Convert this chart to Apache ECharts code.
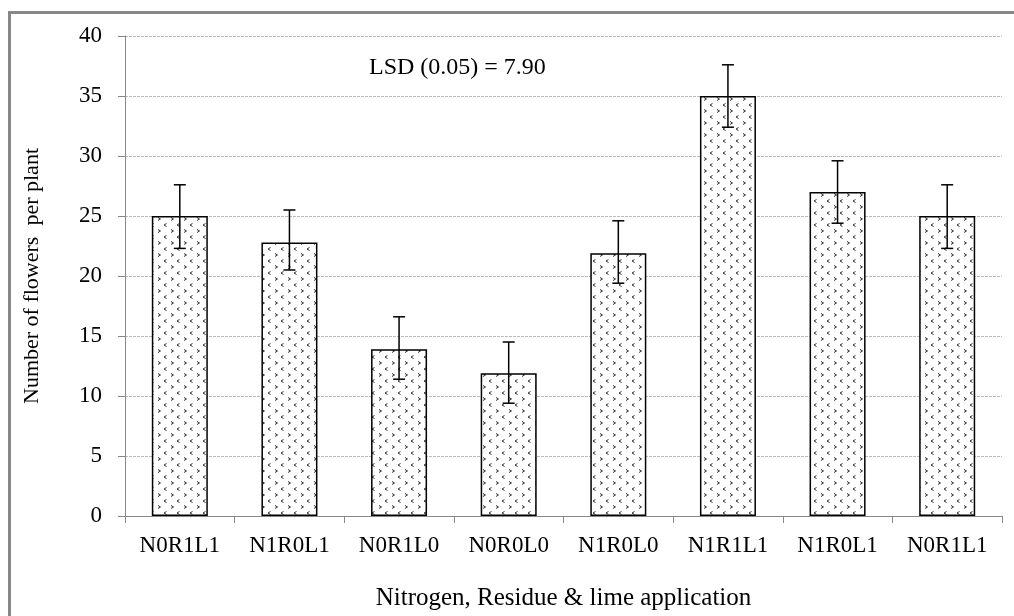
<!DOCTYPE html>
<html>
<head>
<meta charset="utf-8">
<script src="https://cdn.jsdelivr.net/npm/echarts@6/dist/echarts.min.js"></script>
<style>
html,body{margin:0;padding:0;background:#fff;}
#chart{width:1014px;height:616px;}
</style>
</head>
<body>
<div id="chart"></div>
<script>
var categories = ['N0R1L1','N1R0L1','N0R1L0','N0R0L0','N1R0L0','N1R1L1','N1R0L1','N0R1L1'];
var flowers = [25, 22.8, 13.9, 11.9, 21.9, 35, 27, 25];
var errLow = [22.3, 20.5, 11.4, 9.4, 19.4, 32.4, 24.4, 22.3];
var errHigh = [27.6, 25.5, 16.6, 14.5, 24.6, 37.6, 29.6, 27.6];
var yTicks = [0, 5, 10, 15, 20, 25, 30, 35, 40];
var lsdText = 'LSD (0.05) = 7.90';
var xTitle = 'Nitrogen, Residue & lime application';
var yTitle = 'Number of flowers  per plant';

function makePattern() {
  var c = document.createElement('canvas');
  c.width = 13; c.height = 12;
  var g = c.getContext('2d');
  g.fillStyle = '#fff';
  g.fillRect(0, 0, 13, 12);
  g.strokeStyle = '#333';
  g.lineWidth = 1;
  g.beginPath();
  g.moveTo(2, 1.5); g.lineTo(4.5, 3); g.lineTo(2, 4.5);
  g.stroke();
  g.beginPath();
  g.moveTo(10.5, 7.5); g.lineTo(8, 9); g.lineTo(10.5, 10.5);
  g.stroke();
  return c;
}

var chart = echarts.init(document.getElementById('chart'));
var serif = '"Liberation Serif", "DejaVu Serif", serif';
var option = {
  animation: false,
  backgroundColor: '#fff',
  grid: { left: 125, right: 12, top: 36, bottom: 99 },
  graphic: [
    { type: 'polyline', shape: { points: [[9.5, 616], [9.5, 12.5], [1014, 12.5]] },
      style: { stroke: '#888', lineWidth: 3, fill: null } },
    { type: 'text', left: 369, top: 56,
      style: { text: lsdText, font: '24px ' + serif, fill: '#000' } }
  ],
  xAxis: {
    type: 'category',
    data: categories,
    axisLine: { lineStyle: { color: '#888', width: 1 } },
    axisTick: { show: true, length: 7, alignWithLabel: false, lineStyle: { color: '#888' } },
    axisLabel: { color: '#000', fontFamily: serif, fontSize: 23, margin: 18 },
    name: xTitle,
    nameLocation: 'middle',
    nameGap: 70,
    nameTextStyle: { color: '#000', fontFamily: serif, fontSize: 25 }
  },
  yAxis: {
    type: 'value',
    min: yTicks[0], max: yTicks[yTicks.length - 1], interval: 5,
    axisLine: { show: true, lineStyle: { color: '#888', width: 1 } },
    axisTick: { show: true, length: 7, lineStyle: { color: '#888' } },
    axisLabel: { color: '#000', fontFamily: serif, fontSize: 23, margin: 23 },
    splitLine: { show: true, lineStyle: { color: '#bbb', type: [3, 1], width: 1 } },
    name: yTitle,
    nameLocation: 'middle',
    nameGap: 82,
    nameTextStyle: { color: '#000', fontFamily: serif, fontSize: 22 }
  },
  series: [
    {
      type: 'bar',
      data: flowers,
      barWidth: 56,
      itemStyle: {
        color: { image: makePattern(), repeat: 'repeat' },
        borderColor: '#000',
        borderWidth: 1.5
      },
      z: 2
    },
    {
      type: 'custom',
      z: 5,
      data: categories.map(function (c, i) { return [i, errLow[i], errHigh[i]]; }),
      renderItem: function (params, api) {
        var lo = api.coord([api.value(0), api.value(1)]);
        var hi = api.coord([api.value(0), api.value(2)]);
        var hw = 6;
        var st = { stroke: '#000', lineWidth: 1.5 };
        return {
          type: 'group',
          children: [
            { type: 'line', shape: { x1: lo[0], y1: lo[1], x2: hi[0], y2: hi[1] }, style: st },
            { type: 'line', shape: { x1: hi[0] - hw, y1: hi[1], x2: hi[0] + hw, y2: hi[1] }, style: st },
            { type: 'line', shape: { x1: lo[0] - hw, y1: lo[1], x2: lo[0] + hw, y2: lo[1] }, style: st }
          ]
        };
      }
    }
  ]
};
chart.setOption(option);
</script>
</body>
</html>
